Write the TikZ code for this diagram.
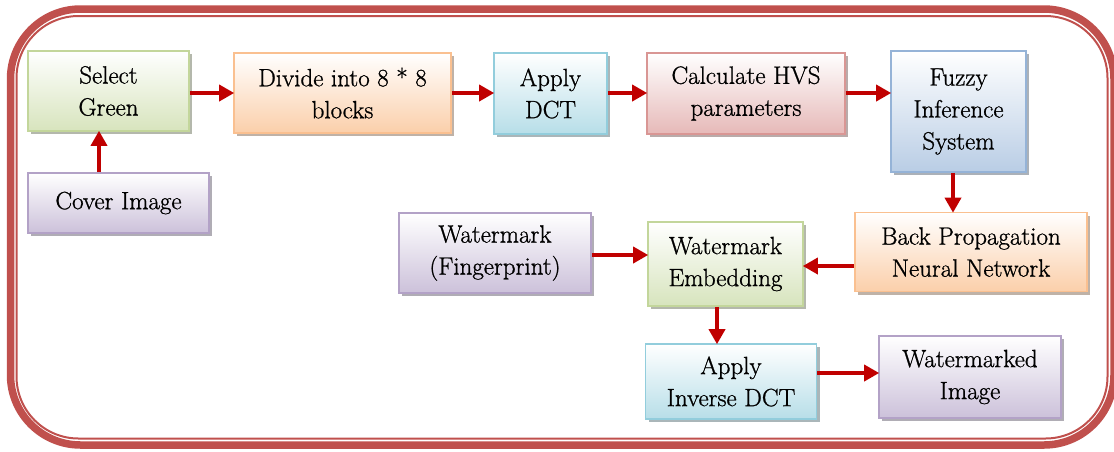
\documentclass[tikz,border=0pt]{standalone}
\usepackage{fontspec}
\newfontfamily\boxfont{Latin Modern Roman}[FakeBold=0.9]
\usetikzlibrary{arrows.meta,shadows,calc}
\definecolor{framered}{HTML}{C0504D}
\definecolor{arrred}{HTML}{C00000}
\definecolor{gB}{HTML}{C3D69B}\definecolor{gF}{HTML}{D7E4BD}
\definecolor{oB}{HTML}{FAC090}\definecolor{oF}{HTML}{FBCFAA}
\definecolor{cB}{HTML}{92CDDC}\definecolor{cF}{HTML}{B7DEE8}
\definecolor{rB}{HTML}{D99694}\definecolor{rF}{HTML}{E6B9B8}
\definecolor{bB}{HTML}{95B3D7}\definecolor{bF}{HTML}{B9CDE5}
\definecolor{pB}{HTML}{B3A2C7}\definecolor{pF}{HTML}{CCC1DA}
\tikzset{
  boxstyle/.style 2 args={draw=#1, line width=1.6pt, top color=white, bottom color=#2,
    drop shadow={shadow xshift=3pt, shadow yshift=-3pt, fill=#2!55!black, opacity=0.55},
    inner sep=0pt, align=center, font=\boxfont\fontsize{25}{32}\selectfont},
  arr/.style={draw=arrred, line width=3.5pt, -{Triangle[length=15pt,width=16pt]}, shorten >=-1pt}
}
\begin{document}
\begin{tikzpicture}[x=1pt,y=-1pt]
\useasboundingbox (0,0) rectangle (1114,451);
% frame
\draw[framered, line width=7.5pt, rounded corners=70pt] (10.5,9) rectangle (1114,445);
\draw[framered, line width=2pt, rounded corners=62pt] (16.5,16) rectangle (1107.5,438.5);
% nodes
\node[boxstyle={gB}{gF}, minimum width=161pt, minimum height=80pt] (sg) at (108.5,91) {Select\\Green};
\node[boxstyle={pB}{pF}, minimum width=181pt, minimum height=60pt] (cover) at (118.5,203) {Cover Image};
\node[boxstyle={oB}{oF}, minimum width=217pt, minimum height=80pt] (div) at (342.5,93) {Divide into 8 * 8\\blocks};
\node[boxstyle={cB}{cF}, minimum width=113pt, minimum height=81pt] (dct) at (550.5,93.5) {Apply\\DCT};
\node[boxstyle={rB}{rF}, minimum width=198pt, minimum height=81pt] (hvs) at (746,93.5) {Calculate HVS\\parameters};
\node[boxstyle={bB}{bF}, minimum width=135pt, minimum height=121pt] (fis) at (958.5,111.5) {Fuzzy\\Inference\\System};
\node[boxstyle={pB}{pF}, minimum width=192pt, minimum height=80pt] (wm) at (495,253) {Watermark\\(Fingerprint)};
\node[boxstyle={gB}{gF}, minimum width=155pt, minimum height=84pt] (emb) at (725.5,264) {Watermark\\Embedding};
\node[boxstyle={oB}{oF}, minimum width=232pt, minimum height=79pt] (bp) at (971,252) {Back Propagation\\Neural Network};
\node[boxstyle={cB}{cF}, minimum width=171pt, minimum height=75pt] (idct) at (731,381.5) {Apply\\Inverse DCT};
\node[boxstyle={pB}{pF}, minimum width=182pt, minimum height=82pt] (wmi) at (970,377) {Watermarked\\Image};
% guide coordinates
\coordinate (rowA) at (0,93);
\coordinate (colA) at (99,0);
\coordinate (colB) at (953,0);
\coordinate (rowB) at (0,266);
\coordinate (rowC) at (0,255);
\coordinate (colC) at (717,0);
\coordinate (rowD) at (0,373);
% connectors
\draw[arr] (cover.north -| colA) -- (sg.south -| colA);
\draw[arr] (sg.east |- rowA) -- (div.west |- rowA);
\draw[arr] (div.east |- rowA) -- (dct.west |- rowA);
\draw[arr] (dct.east |- rowA) -- (hvs.west |- rowA);
\draw[arr] (hvs.east |- rowA) -- (fis.west |- rowA);
\draw[arr] (fis.south -| colB) -- (bp.north -| colB);
\draw[arr] (bp.west |- rowB) -- (emb.east |- rowB);
\draw[arr] (wm.east |- rowC) -- (emb.west |- rowC);
\draw[arr] (emb.south -| colC) -- (idct.north -| colC);
\draw[arr] (idct.east |- rowD) -- (wmi.west |- rowD);
\end{tikzpicture}
\end{document}
